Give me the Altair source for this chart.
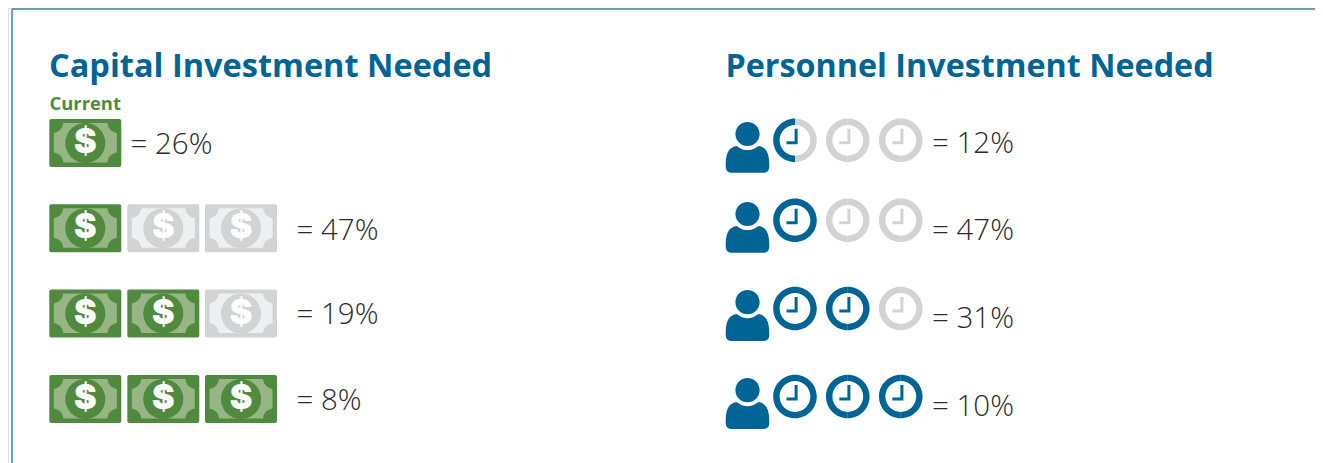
import altair as alt
import pandas as pd

# ---- values ----
capital_title = ["Capital Investment Needed"]
personnel_title = ["Personnel Investment Needed"]
current_label = ["Current"]
capital_slots = [1, 3, 3, 3]
capital_filled = [1, 1, 2, 3]
capital_pct = [26, 47, 19, 8]
personnel_slots = [3, 3, 3, 3]
personnel_filled = [0.5, 1, 2, 3]
personnel_pct = [12, 47, 31, 10]

# ---- layout and style ----
CW, CH = 1307, 455  # chart size
X_MAX, Y_MAX = 8 + CW, 8 + CH
BILL_Y = [143, 228.3, 313.5, 399]
BILL_X = [85.3, 163.3, 241]
BILL_TEXT_X = [130.5, 296.5, 296.5, 296.5]
CAP_TEXT_Y = [145, 230.5, 315, 401]
CLOCK_Y = [140.3, 220.3, 308.5, 396.5]
CLOCK_X = [795, 847.8, 900.8]
PERSON_X = 747.5
PERS_TEXT_X = 932
PERS_TEXT_Y = [143.5, 230.5, 318.5, 406.5]

BLUE = "#006595"
GREEN = "#4f8a3f"
GREEN_L = "#97b585"
GREY = "#d1d3d4"
GREY_L = "#eeeff0"
FRAME = "#3b82a8"
TEXT = "#2b2b2b"
TITLE_FONT = "Open Sans"
BODY_FONT = "Open Sans"

x_scale = alt.Scale(domain=[8, X_MAX], range=[0, CW], nice=False, zero=False)
y_scale = alt.Scale(domain=[8, Y_MAX], range=[0, CH], nice=False, zero=False)
X = lambda f="x": alt.X(f"{f}:Q", scale=x_scale, axis=None)
Y = lambda f="y": alt.Y(f"{f}:Q", scale=y_scale, axis=None)

U = 50.0  # half extent, px, of a symbol's unit box
SIZE = (2 * U) ** 2


def p(v):
    return f"{v / U:.4f}"


def poly(points):
    return "M" + " L".join(f"{p(a)},{p(b)}" for a, b in points) + " Z"


def rrect(x0, y0, x1, y1, r):
    return (
        f"M{p(x0 + r)},{p(y0)} L{p(x1 - r)},{p(y0)} Q{p(x1)},{p(y0)} {p(x1)},{p(y0 + r)} "
        f"L{p(x1)},{p(y1 - r)} Q{p(x1)},{p(y1)} {p(x1 - r)},{p(y1)} "
        f"L{p(x0 + r)},{p(y1)} Q{p(x0)},{p(y1)} {p(x0)},{p(y1 - r)} "
        f"L{p(x0)},{p(y0 + r)} Q{p(x0)},{p(y0)} {p(x0 + r)},{p(y0)} Z"
    )


def circle(r):
    return (
        f"M{p(-r)},0 A{p(r)},{p(r)} 0 1 1 {p(r)},0 "
        f"A{p(r)},{p(r)} 0 1 1 {p(-r)},0 Z"
    )


def half_ring(R, r, right):
    a, b = (1, 0) if right else (0, 1)
    return (
        f"M0,{p(-R)} A{p(R)},{p(R)} 0 0 {a} 0,{p(R)} L0,{p(r)} "
        f"A{p(r)},{p(r)} 0 0 {b} 0,{p(-r)} Z"
    )


BILL = rrect(-36, -24, 36, 24, 2)
BAND = (
    f"M{p(-22)},{p(-20)} L{p(22)},{p(-20)} Q{p(23)},{p(-12)} {p(31.5)},{p(-10)} "
    f"L{p(31.5)},{p(9.5)} Q{p(23)},{p(11)} {p(22)},{p(19.5)} L{p(-22)},{p(19.5)} "
    f"Q{p(-23)},{p(11)} {p(-31.5)},{p(9.5)} L{p(-31.5)},{p(-10)} Q{p(-23)},{p(-12)} {p(-22)},{p(-20)} Z"
)
COIN = circle(20)
RING_R = half_ring(21.8, 15.4, True)
RING_L = half_ring(21.8, 15.4, False)
HANDS = poly([(-0.4, -11.5), (2.6, -11.5), (2.6, 4.0), (-8.5, 4.0), (-8.5, 1.0), (-0.4, 1.0)])
HEAD = circle(12.1)
BODY = (
    f"M{p(-21.8)},{p(6)} C{p(-21.8)},{p(-6)} {p(-19)},{p(-12)} {p(-11)},{p(-13.4)} "
    f"Q{p(0)},{p(-5)} {p(11)},{p(-13.4)} C{p(19)},{p(-12)} {p(21.8)},{p(-6)} {p(21.8)},{p(6)} "
    f"L{p(21.8)},{p(7.5)} Q{p(21.8)},{p(13.5)} {p(15.5)},{p(13.5)} L{p(-15.5)},{p(13.5)} "
    f"Q{p(-21.8)},{p(13.5)} {p(-21.8)},{p(7.5)} Z"
)

# ---- tables built from the values ----
bills = pd.DataFrame(
    [
        {
            "x": BILL_X[i],
            "y": BILL_Y[r],
            "dark": GREEN if i < capital_filled[r] else GREY,
            "light": GREEN_L if i < capital_filled[r] else GREY_L,
        }
        for r in range(4)
        for i in range(capital_slots[r])
    ]
)
clocks = pd.DataFrame(
    [
        {
            "x": CLOCK_X[i],
            "y": CLOCK_Y[r],
            "left": BLUE if personnel_filled[r] > i else GREY,
            "right": BLUE if personnel_filled[r] >= i + 1 else GREY,
        }
        for r in range(4)
        for i in range(personnel_slots[r])
    ]
)
people = pd.DataFrame({"x": [PERSON_X] * 4, "y": CLOCK_Y})
people["head_y"] = people["y"] - 6.3
people["body_y"] = people["y"] + 19
people["c"] = BLUE


def symbol(df, shape, color_field, y="y"):
    return (
        alt.Chart(df)
        .mark_point(shape=shape, size=SIZE, filled=True, opacity=1, strokeWidth=0)
        .encode(x=X(), y=Y(y), color=alt.Color(f"{color_field}:N", scale=None))
    )


bill_layers = [
    symbol(bills, BILL, "dark"),
    symbol(bills, BAND, "light"),
    symbol(bills, COIN, "dark"),
    alt.Chart(bills)
    .mark_text(text="$", font="Inter", fontWeight=900, fontSize=34, color="white", baseline="middle", align="center")
    .encode(x=X(), y=Y()),
]
clock_layers = [
    symbol(clocks, RING_L, "left"),
    symbol(clocks, RING_R, "right"),
    symbol(clocks, HANDS, "left"),
]
people_layers = [symbol(people, HEAD, "c", "head_y"), symbol(people, BODY, "c", "body_y")]


def labels(xs, ys, pcts, gap="  "):
    df = pd.DataFrame({"x": xs, "y": ys, "t": [f"={gap}{v}%" for v in pcts]})
    return (
        alt.Chart(df)
        .mark_text(font=BODY_FONT, fontWeight=300, fontSize=29.5, color=TEXT, align="left", baseline="middle")
        .encode(x=X(), y=Y(), text="t:N")
    )


def heading(t, x, y, size, color, weight=700):
    df = pd.DataFrame({"x": [x], "y": [y], "t": t})
    return (
        alt.Chart(df)
        .mark_text(font=TITLE_FONT, fontWeight=weight, fontSize=size, color=color, align="left", baseline="middle")
        .encode(x=X(), y=Y(), text="t:N")
    )


frame_h = (
    alt.Chart(pd.DataFrame({"x": [12], "x2": [X_MAX], "y": [9]}))
    .mark_rule(color=FRAME, strokeWidth=1.5)
    .encode(x=X(), x2="x2:Q", y=Y())
)
frame_v = (
    alt.Chart(pd.DataFrame({"x": [12], "y": [9], "y2": [Y_MAX]}))
    .mark_rule(color=FRAME, strokeWidth=1.5)
    .encode(x=X(), y=Y(), y2="y2:Q")
)

chart = (
    alt.layer(
        frame_h,
        frame_v,
        heading(capital_title, 49, 66.5, 32.5, BLUE),
        heading(personnel_title, 725.5, 66.5, 32.3, BLUE),
        heading(current_label, 49.5, 104, 18.4, GREEN),
        *bill_layers,
        *clock_layers,
        *people_layers,
        labels(BILL_TEXT_X, CAP_TEXT_Y, capital_pct),
        labels([PERS_TEXT_X] * 4, PERS_TEXT_Y, personnel_pct),
    )
    .properties(width=CW, height=CH, padding=0, autosize=alt.AutoSizeParams(type="none"))
    .configure_view(stroke="transparent")
    .configure(background="white")
)

chart.save("out.html", embed_options={"renderer": "svg", "actions": False})
